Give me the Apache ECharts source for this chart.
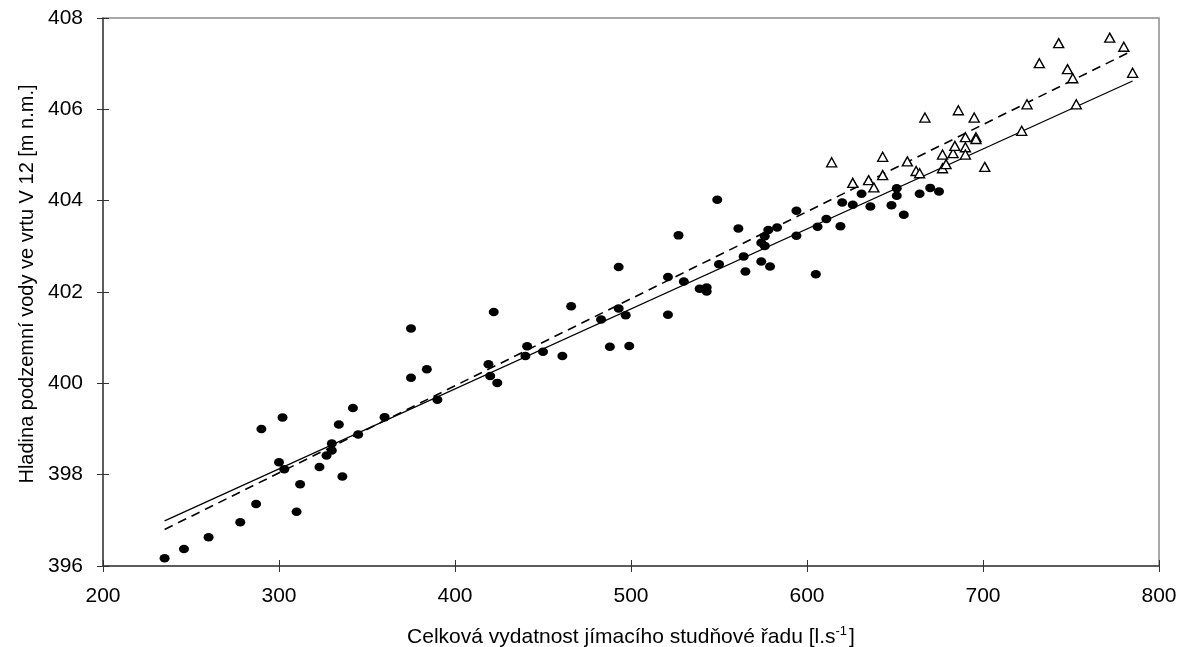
<!DOCTYPE html>
<html>
<head>
<meta charset="utf-8">
<script src="https://cdn.jsdelivr.net/npm/echarts@6/dist/echarts.min.js"></script>
<style>
  html, body { margin: 0; padding: 0; background: #fff; }
  #ch-main { width: 1179px; height: 647px; }
</style>
</head>
<body>
<div id="ch-main"></div>
<script>
// body (filled circles) - [vydatnost, hladina]
let dots = [
    [235, 396.17], [246, 396.37], [260, 396.63], [278, 396.96], [287, 397.36],
    [290, 399.0], [302, 399.25], [300, 398.27], [303, 398.12], [312, 397.79],
    [310, 397.19], [323, 398.17], [327, 398.42], [330, 398.53], [330, 398.68],
    [336, 397.96], [334, 399.10], [342, 399.46], [345, 398.88], [360, 399.26],
    [375, 401.2], [375, 400.12], [384, 400.31], [390, 399.64], [422, 401.56],
    [419, 400.42], [420, 400.16], [424, 400.01], [441, 400.81], [440, 400.60],
    [450, 400.69], [461, 400.60], [466, 401.69], [483, 401.40], [488, 400.80],
    [493, 402.55], [493, 401.64], [497, 401.49], [499, 400.82], [527, 403.24],
    [521, 402.33], [521, 401.50], [530, 402.23], [539, 402.07], [543, 402.10],
    [543, 402.01], [549, 404.02], [550, 402.61], [561, 403.39], [564, 402.78],
    [565, 402.45], [574, 402.67], [579, 402.56], [574, 403.08], [576, 403.01],
    [576, 403.22], [578, 403.36], [583, 403.41], [594, 403.23], [594, 403.78],
    [605, 402.39], [606, 403.43], [611, 403.60], [619, 403.44], [620, 403.96],
    [626, 403.91], [631, 404.15], [636, 403.87], [648, 403.90], [651, 404.27],
    [651, 404.11], [655, 403.69], [664, 404.15], [670, 404.28], [675, 404.20]
]

// open triangles
let triangles = [
    [614, 404.84], [626, 404.39], [635, 404.45], [638, 404.29], [643, 404.56],
    [643, 404.96], [657, 404.86], [662, 404.65], [664, 404.60], [667, 405.82],
    [677, 405.01], [677, 404.71], [679, 404.80], [683, 405.04], [684, 405.20],
    [686, 405.98], [690, 405.17], [690, 405.01], [690, 405.39], [696, 405.39],
    [696, 405.35], [695, 405.82], [701, 404.74], [722, 405.53], [725, 406.11],
    [732, 407.01], [743, 407.45], [748, 406.88], [751, 406.68], [753, 406.11],
    [772, 407.57], [780, 407.37], [785, 406.80]
]

// regression lines (end points)
let lineSolid = [[235, 396.99], [785, 406.62]]
let lineDashed = [[235, 396.80], [782, 407.23]]

let xTicks = { min: 200, max: 800, interval: 100 }
let yTicks = { min: 396, max: 408, interval: 2 }

let main = echarts.init(document.getElementById('ch-main'));
let font = 'Liberation Sans, Arial, sans-serif'

// the axis ticks cross the axis line: second pair of axes draws the inner half
let innerX = {
    type: 'value', position: 'bottom',
    min: xTicks.min, max: xTicks.max, interval: xTicks.interval,
    axisLine: { show: false },
    axisTick: { inside: true, length: 6, lineStyle: { color: '#333' } },
    axisLabel: { show: false },
    splitLine: { show: false }
}
let innerY = {
    type: 'value', position: 'left',
    min: yTicks.min, max: yTicks.max, interval: yTicks.interval,
    axisLine: { show: false },
    axisTick: { show: true, inside: true, length: 6, lineStyle: { color: '#333' } },
    axisLabel: { show: false },
    splitLine: { show: false }
}

let option = {
    animation: false,
    grid: {
        left: 103, right: 20, top: 18, bottom: 81,
        outerBoundsMode: 'none',
        show: true, borderColor: '#8c8c8c', borderWidth: 1.5
    },
    xAxis: [{
        type: 'value', position: 'bottom',
        min: xTicks.min, max: xTicks.max, interval: xTicks.interval,
        name: '{t|Celková vydatnost jímacího studňové řadu [l.s}{s|-1}{t|]}',
        nameLocation: 'middle',
        nameGap: 59,
        nameTextStyle: {
            rich: {
                t: { fontFamily: font, fontSize: 21, color: '#000' },
                s: { fontFamily: font, fontSize: 13, color: '#000', verticalAlign: 'top', padding: [0, 2, 12, 0] }
            }
        },
        axisLine: { lineStyle: { color: '#444', width: 1.5 } },
        axisTick: { length: 6, lineStyle: { color: '#333' } },
        axisLabel: { fontFamily: font, fontSize: 21, color: '#000', margin: 20 },
        splitLine: { show: false }
    }, innerX],
    yAxis: [{
        type: 'value', position: 'left',
        min: yTicks.min, max: yTicks.max, interval: yTicks.interval,
        name: 'Hladina podzemní vody ve vrtu V 12 [m n.m.]',
        nameLocation: 'middle',
        nameGap: 56,
        nameTextStyle: { fontFamily: font, fontSize: 20, color: '#000', padding: [0, 0, 0, 16] },
        axisLine: { show: true, lineStyle: { color: '#444', width: 1.5 } },
        axisTick: { show: true, length: 6, lineStyle: { color: '#333' } },
        axisLabel: { fontFamily: font, fontSize: 21, color: '#000', margin: 20 },
        splitLine: { show: false }
    }, innerY],
    series: [
        {
            type: 'line',
            data: lineSolid,
            symbol: 'none',
            lineStyle: { color: '#000', width: 1.3 },
            z: 2
        },
        {
            type: 'line',
            data: lineDashed,
            symbol: 'none',
            lineStyle: { color: '#000', width: 1.6, type: [9, 6] },
            z: 2
        },
        {
            type: 'scatter',
            data: dots,
            symbol: 'circle',
            symbolSize: [10, 8.5],
            itemStyle: { color: '#000', opacity: 1 },
            z: 3
        },
        {
            type: 'scatter',
            data: triangles,
            symbol: 'triangle',
            symbolSize: [10, 9],
            itemStyle: { color: '#fff', borderColor: '#000', borderWidth: 1.4, opacity: 1 },
            z: 3
        }
    ]
};

main.setOption(option);
</script>
</body>
</html>
